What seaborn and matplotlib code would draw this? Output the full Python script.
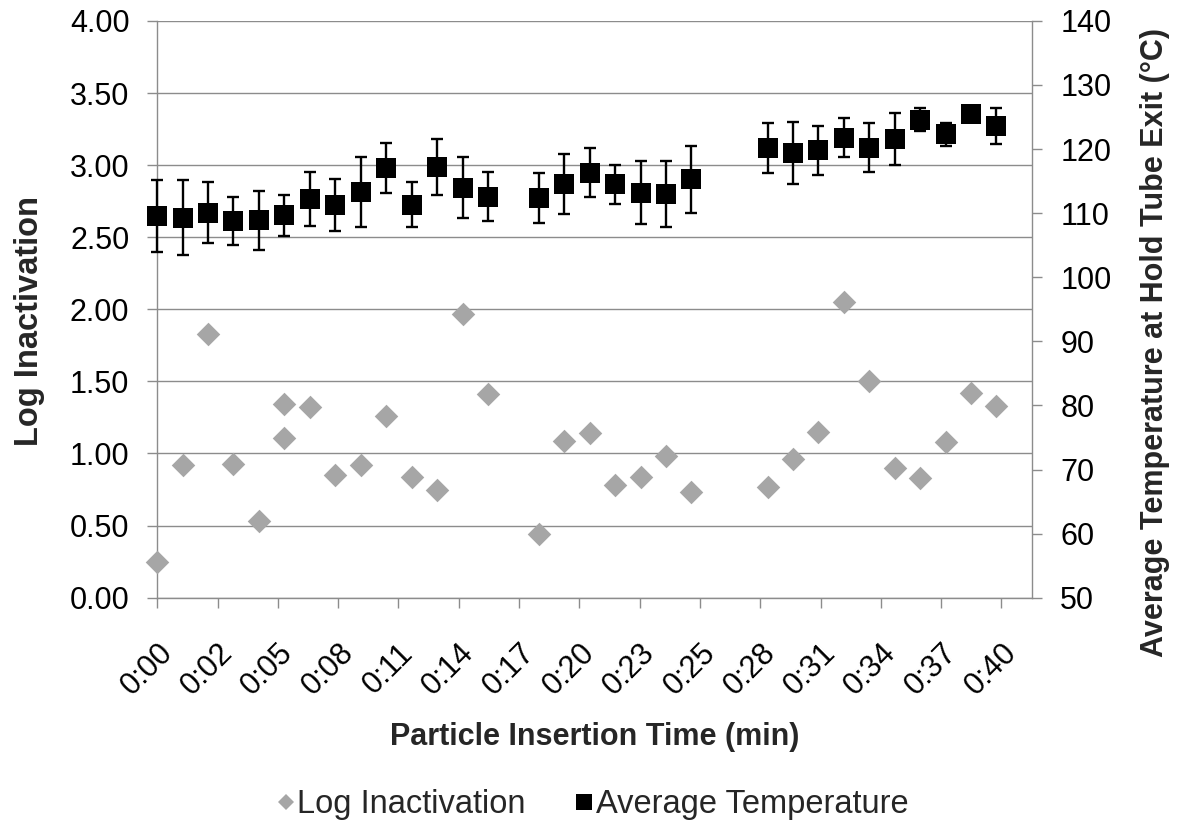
import numpy as np
import pandas as pd
import matplotlib
matplotlib.use("Agg")
import matplotlib.pyplot as plt
from matplotlib.lines import Line2D
import seaborn as sns

# Log inactivation of each inserted particle (insertion time in minutes)
inact_time = [0.00, 1.21, 2.43, 3.64, 4.86, 6.07, 6.07, 7.29, 8.50, 9.72,
              10.93, 12.15, 13.36, 14.58, 15.79, 18.22, 19.43, 20.65, 21.86,
              23.08, 24.29, 25.51, 29.15, 30.36, 31.58, 32.79, 34.01, 35.22,
              36.44, 37.65, 38.87, 40.08]
log_inactivation = [0.25, 0.92, 1.83, 0.93, 0.53, 1.34, 1.11, 1.32, 0.85, 0.92,
                    1.26, 0.84, 0.75, 1.97, 1.41, 0.44, 1.09, 1.14, 0.78,
                    0.84, 0.98, 0.73, 0.77, 0.96, 1.15, 2.05, 1.50, 0.90,
                    0.83, 1.08, 1.42, 1.33]

# Average hold tube exit temperature (°C) with standard deviation
temp_time = [0.00, 1.21, 2.43, 3.64, 4.86, 6.07, 7.29, 8.50, 9.72, 10.93,
             12.15, 13.36, 14.58, 15.79, 18.22, 19.43, 20.65, 21.86, 23.08,
             24.29, 25.51, 29.15, 30.36, 31.58, 32.79, 34.01, 35.22, 36.44,
             37.65, 38.87, 40.08]
avg_temperature = [109.6, 109.3, 110.1, 108.8, 108.9, 109.7, 112.2, 111.3, 113.3, 117.1,
                   111.3, 117.2, 114.0, 112.6, 112.3, 114.5, 116.3, 114.5, 113.2,
                   113.0, 115.3, 120.2, 119.4, 119.8, 121.8, 120.2, 121.6, 124.6,
                   122.3, 125.5, 123.6]
temp_sd = [5.6, 5.9, 4.8, 3.7, 4.6, 3.2, 4.2, 4.1, 5.4, 3.9,
           3.5, 4.3, 4.7, 3.9, 3.9, 4.7, 3.8, 3.0, 4.9,
           5.1, 5.2, 3.9, 4.9, 3.8, 3.0, 3.8, 4.1, 1.8,
           1.8, 1.0, 2.8]

x_tick_labels = ["0:00", "0:02", "0:05", "0:08", "0:11", "0:14", "0:17", "0:20",
                 "0:23", "0:25", "0:28", "0:31", "0:34", "0:37", "0:40"]
x_tick_step = 2.88          # minutes between labelled ticks
x_max = 41.8

left_ticks = [0.0, 0.5, 1.0, 1.5, 2.0, 2.5, 3.0, 3.5, 4.0]
right_ticks = [50, 60, 70, 80, 90, 100, 110, 120, 130, 140]

grey_line = "#8c8c8c"
diamond_color = "#a6a6a6"

sns.set_style("white")
plt.rcParams["font.family"] = ["Liberation Sans", "DejaVu Sans"]

fig = plt.figure(figsize=(11.77, 8.33), dpi=100)
ax = fig.add_axes([0.1336, 0.2825, 0.7436, 0.6924])
ax2 = ax.twinx()

df_inact = pd.DataFrame({"time": inact_time, "log": log_inactivation})
df_temp = pd.DataFrame({"time": temp_time, "temp": avg_temperature, "sd": temp_sd})

sns.scatterplot(data=df_inact, x="time", y="log", marker="D", s=144,
                color=diamond_color, linewidth=0, ax=ax, zorder=3,
                legend=False, clip_on=False)

ax2.errorbar(df_temp["time"], df_temp["temp"], yerr=df_temp["sd"], fmt="none",
             ecolor="black", elinewidth=1.7, capsize=4, capthick=1.7,
             zorder=2, clip_on=False)
sns.scatterplot(data=df_temp, x="time", y="temp", marker="s", s=196,
                color="black", linewidth=0, ax=ax2, zorder=3,
                legend=False, clip_on=False)

# axes ranges and ticks
ax.set_xlim(0, x_max)
ax.set_ylim(0, 4)
ax2.set_ylim(50, 140)
ax.set_xticks([i * x_tick_step for i in range(len(x_tick_labels))])
ax.set_xticklabels(x_tick_labels, rotation=45, ha="right", rotation_mode="anchor")
ax.set_yticks(left_ticks)
ax.set_yticklabels([f"{v:.2f}" for v in left_ticks])
ax2.set_yticks(right_ticks)
ax2.set_yticklabels([str(v) for v in right_ticks])

ax.yaxis.grid(True, color=grey_line, linewidth=1)
ax.xaxis.grid(False)
ax2.grid(False)
ax.set_axisbelow(True)

for side in ["left", "bottom"]:
    ax.spines[side].set_color(grey_line)
    ax.spines[side].set_linewidth(1)
ax.spines["top"].set_visible(False)
ax.spines["right"].set_visible(False)
for side in ["left", "bottom", "top"]:
    ax2.spines[side].set_visible(False)
ax2.spines["right"].set_color(grey_line)
ax2.spines["right"].set_linewidth(1)

ax.tick_params(axis="both", which="major", direction="out", length=7, width=1,
               color=grey_line, labelsize=22, labelcolor="black",
               bottom=True, left=True)
ax.tick_params(axis="y", pad=13)
ax.tick_params(axis="x", pad=22)
ax2.tick_params(axis="y", direction="out", length=7, width=1, color=grey_line,
                labelsize=22, labelcolor="black", right=True, pad=13)

ax.set_xlabel("Particle Insertion Time (min)", fontsize=22, fontweight="bold")
ax.set_ylabel("Log Inactivation", fontsize=23.5, fontweight="bold")
ax2.set_ylabel("Average Temperature at Hold Tube Exit (°C)", fontsize=22,
               fontweight="bold")
ax.xaxis.set_label_coords(0.5, -0.216)
ax.yaxis.set_label_coords(-0.128, 0.48)
ax2.yaxis.set_label_coords(1.123, 0.443)

handles = [
    Line2D([], [], linestyle="none", marker="D", markersize=8.5,
           markerfacecolor=diamond_color, markeredgewidth=0),
    Line2D([], [], linestyle="none", marker="s", markersize=11,
           markerfacecolor="black", markeredgewidth=0),
]
fig.legend(handles, ["Log Inactivation", "Average Temperature"],
           loc="center", bbox_to_anchor=(0.503, 0.034), ncol=2, frameon=False,
           fontsize=23.5, handlelength=0.6, handletextpad=0.05,
           columnspacing=1.5)

fig.savefig("out.png", dpi=100)
